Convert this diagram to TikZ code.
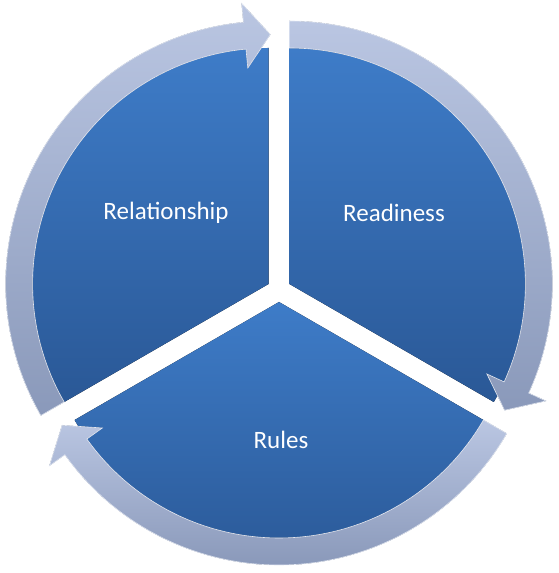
\documentclass[tikz,border=0pt]{standalone}
\usepackage{fontspec}
\setmainfont{Carlito}
\usepackage{xcolor}
\usepackage{tikz}
\usetikzlibrary{calc}
\definecolor{segtop}{RGB}{62,124,200}
\definecolor{segbot}{RGB}{42,88,150}
\definecolor{ringtop}{RGB}{186,198,226}
\definecolor{ringbot}{RGB}{138,153,186}
\definecolor{ringedge}{RGB}{226,232,244}

\begin{document}
\begin{tikzpicture}[x=1pt, y=1pt, segment/.style={top color=segtop, bottom color=segbot, draw=none}, ring/.style={top color=ringtop, bottom color=ringbot, draw=ringedge, line width=0.6pt, line join=miter}, label/.style={text=white, font=\fontsize{25}{29}\selectfont, inner sep=0pt}]
  \useasboundingbox (0,0) rectangle (559,573);
  % segment centres
  \coordinate (rel) at (268.6,289);
  \coordinate (rea) at (289.4,289);
  \coordinate (rul) at (279,271);
  % pie segments
  \fill[segment] (rel) -- ++(90:236) arc[start angle=90, end angle=210, radius=236] -- cycle;
  \fill[segment] (rea) -- ++(-30:236) arc[start angle=-30, end angle=90, radius=236] -- cycle;
  \fill[segment] (rul) -- ++(210:236) arc[start angle=210, end angle=330, radius=236] -- cycle;
  % curved arrows
  \foreach \c/\s/\e in {rel/210/90, rea/90/-30, rul/-30/-150}
    \filldraw[ring] ($(\c)+(\s:263)$) arc[start angle=\s, end angle=\e+5.5, radius=263]
      -- ($(\c)+(\e+5.5:282)$) -- ($(\c)+(\e-0.4:249.5)$) -- ($(\c)+(\e+5.5:217)$)
      -- ($(\c)+(\e+5.5:236)$) arc[start angle=\e+5.5, end angle=\s, radius=236] -- cycle;
  % labels
  \node[label] (relationship) at (166,360) {Relationship};
  \node[label] (readiness) at (394,360) {Readiness};
  \node[label] (rules) at (281,133) {Rules};
\end{tikzpicture}
\end{document}
